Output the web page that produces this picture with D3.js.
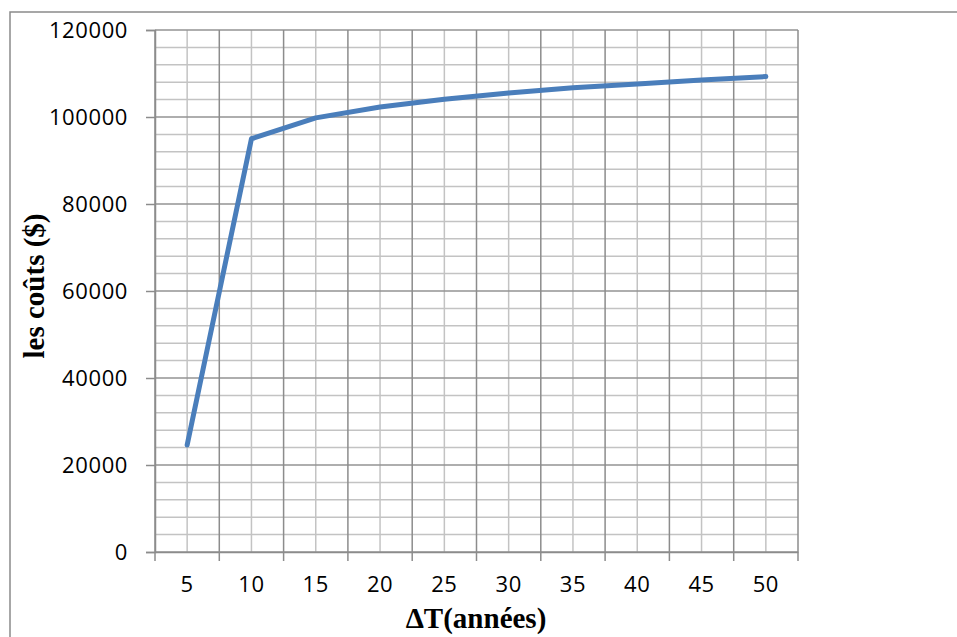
<!DOCTYPE html>
<html>
<head>
<meta charset="utf-8">
<script src="https://cdn.jsdelivr.net/npm/d3@7"></script>
<style>
  html, body { margin: 0; padding: 0; background: #fff; }
  svg { display: block; }
</style>
</head>
<body>
<svg id="chart" width="957" height="637"></svg>
<script>
// Intervalle ΔT (années) et coût correspondant
const categories = ["5", "10", "15", "20", "25", "30", "35", "40", "45", "50"];
const costs = [24600, 95000, 99800, 102300, 104100, 105500, 106700, 107600, 108500, 109300];
const yTicks = [0, 20000, 40000, 60000, 80000, 100000, 120000];
const yMinorStep = 4000;

const svg = d3.select("#chart");
const plotLeft = 155, plotRight = 798, plotTop = 30, plotBottom = 552;

const x = d3.scaleBand().domain(categories).range([plotLeft, plotRight]).padding(0);
const y = d3.scaleLinear().domain([0, 120000]).range([plotBottom, plotTop]);
const cx = d => x(d) + x.bandwidth() / 2;

// Cadre extérieur
svg.append("rect")
  .attr("x", 10).attr("y", 12).attr("width", 1000).attr("height", 700)
  .attr("fill", "none").attr("stroke", "#8a8a8a").attr("stroke-width", 1.5);

const grid = svg.append("g");

// Quadrillage horizontal secondaire
const minor = d3.range(0, 120000 + 1, yMinorStep).filter(v => v % 20000 !== 0);
grid.selectAll("line.hmin").data(minor).join("line")
  .attr("x1", plotLeft).attr("x2", plotRight)
  .attr("y1", d => y(d)).attr("y2", d => y(d))
  .attr("stroke", "#c3c3c3").attr("stroke-width", 1.5);

// Quadrillage vertical secondaire (centre des catégories)
grid.selectAll("line.vmin").data(categories).join("line")
  .attr("x1", d => cx(d)).attr("x2", d => cx(d))
  .attr("y1", plotTop).attr("y2", plotBottom)
  .attr("stroke", "#c3c3c3").attr("stroke-width", 1.5);

// Quadrillage horizontal principal
grid.selectAll("line.hmaj").data(yTicks).join("line")
  .attr("x1", plotLeft).attr("x2", plotRight)
  .attr("y1", d => y(d)).attr("y2", d => y(d))
  .attr("stroke", "#939393").attr("stroke-width", 1.5);

// Quadrillage vertical principal (limites des catégories)
const bounds = categories.map(c => x(c)).concat([plotRight]);
grid.selectAll("line.vmaj").data(bounds).join("line")
  .attr("x1", d => d).attr("x2", d => d)
  .attr("y1", plotTop).attr("y2", plotBottom)
  .attr("stroke", "#8c8c8c").attr("stroke-width", 1.5);

// Axe Y
const yAxis = d3.axisLeft(y).tickValues(yTicks).tickSize(9).tickPadding(18)
  .tickFormat(d3.format("d"));
const gy = svg.append("g").attr("transform", `translate(${plotLeft},0)`).call(yAxis);
gy.select(".domain").attr("stroke", "#8c8c8c").attr("stroke-width", 1.5);
gy.selectAll(".tick line").attr("stroke", "#8c8c8c").attr("stroke-width", 1.5);
gy.selectAll(".tick text")
  .attr("font-family", "'Open Sans', sans-serif").attr("font-size", 22)
  .attr("letter-spacing", 0.6).attr("fill", "#000");

// Axe X
const xAxis = d3.axisBottom(x).tickSize(0).tickPadding(24);
const gx = svg.append("g").attr("transform", `translate(0,${plotBottom})`).call(xAxis);
gx.select(".domain").attr("stroke", "#8c8c8c").attr("stroke-width", 1.5);
gx.selectAll(".tick text")
  .attr("font-family", "'Open Sans', sans-serif").attr("font-size", 22)
  .attr("letter-spacing", 0.6).attr("fill", "#000");
svg.append("g").selectAll("line").data(bounds).join("line")
  .attr("x1", d => d).attr("x2", d => d)
  .attr("y1", plotBottom).attr("y2", plotBottom + 9)
  .attr("stroke", "#8c8c8c").attr("stroke-width", 1.5);

// Courbe des coûts
const line = d3.line().x((d, i) => cx(categories[i])).y(d => y(d));
svg.append("path")
  .datum(costs)
  .attr("d", line)
  .attr("fill", "none")
  .attr("stroke", "#4a7ebb")
  .attr("stroke-width", 5)
  .attr("stroke-linejoin", "round")
  .attr("stroke-linecap", "round");

// Titres des axes
svg.append("text")
  .attr("x", 476).attr("y", 628)
  .attr("text-anchor", "middle")
  .attr("font-family", "'Liberation Serif', 'Times New Roman', serif")
  .attr("font-weight", "bold").attr("font-size", 29)
  .text("ΔT(années)");

svg.append("text")
  .attr("transform", "translate(44,286) rotate(-90)")
  .attr("text-anchor", "middle")
  .attr("font-family", "'Liberation Serif', 'Times New Roman', serif")
  .attr("font-weight", "bold").attr("font-size", 29)
  .text("les coûts ($)");
</script>
</body>
</html>
